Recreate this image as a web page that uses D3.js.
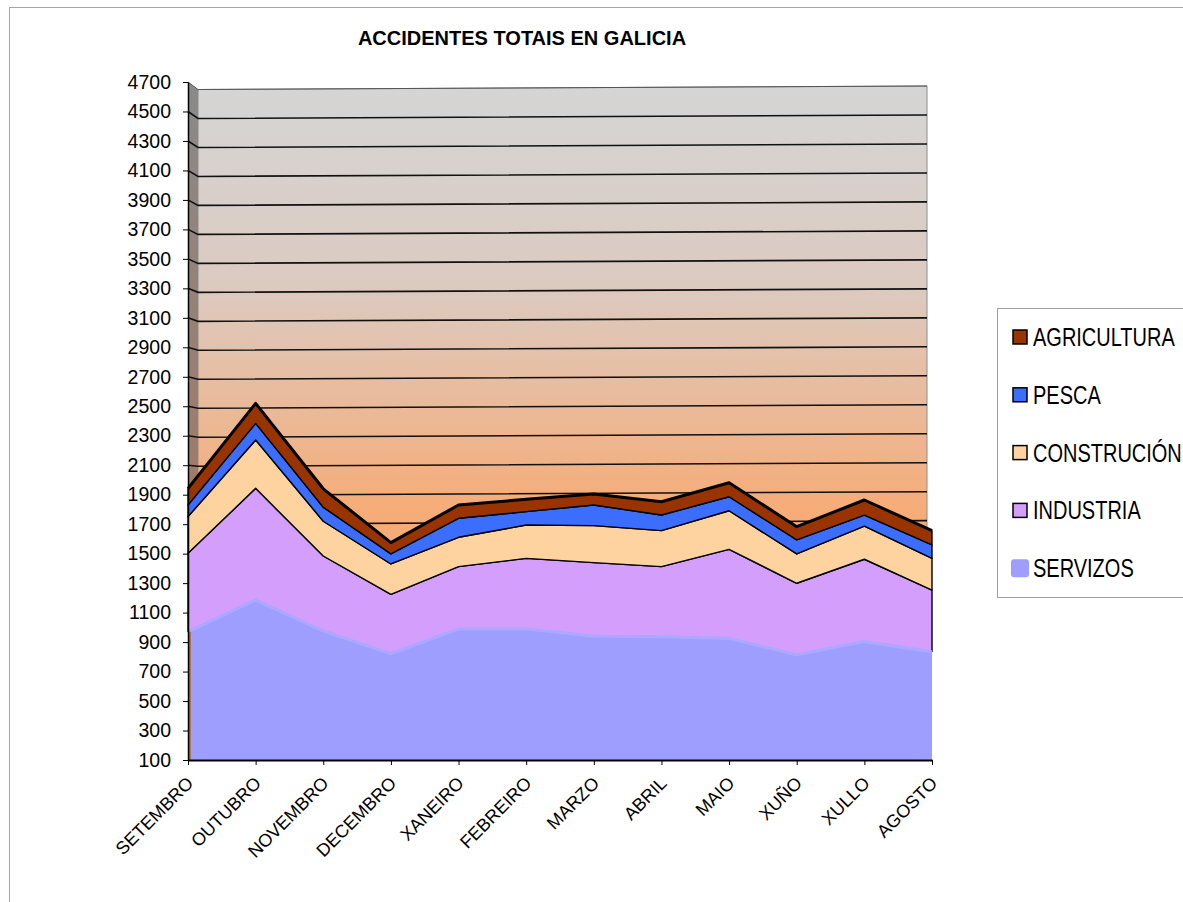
<!DOCTYPE html>
<html>
<head>
<meta charset="utf-8">
<script src="https://cdnjs.cloudflare.com/ajax/libs/d3/7.8.5/d3.min.js"></script>
<style>
  body{margin:0;background:#fff;}
  text{font-family:Arial,"Liberation Sans",sans-serif;fill:#000;}
</style>
</head>
<body>
<script>
// Datos
var meses = ["SETEMBRO","OUTUBRO","NOVEMBRO","DECEMBRO","XANEIRO","FEBREIRO","MARZO","ABRIL","MAIO","XUÑO","XULLO","AGOSTO"];
var servizos    = [970,1185,975,819,989,989,940,937,925,812,903,835];
var industria   = [532,758,509,405,423,479,499,475,604,487,559,418];
var construcion = [249,328,236,206,199,226,251,244,262,199,225,215];
var pesca       = [79,113,95,68,129,91,140,106,95,95,75,91];
var agricultura = [113,136,125,77,90,84,75,90,95,90,102,97];
var series  = ["SERVIZOS","INDUSTRIA","CONSTRUCIÓN","PESCA","AGRICULTURA"];
var colores = ["#9e9eff","#d39efc","#fed3a0","#3b6dff","#993300"];
var ticksY  = [100,300,500,700,900,1100,1300,1500,1700,1900,2100,2300,2500,2700,2900,3100,3300,3500,3700,3900,4100,4300,4500,4700];
var titulo  = "ACCIDENTES TOTAIS EN GALICIA";

// Tabla para el stack
var tabla = meses.map(function(m,i){
  return {mes:m, SERVIZOS:servizos[i], INDUSTRIA:industria[i], "CONSTRUCIÓN":construcion[i], PESCA:pesca[i], AGRICULTURA:agricultura[i]};
});

var W = 1183, H = 902;
var svg = d3.select("body").append("svg")
    .attr("width",W)
    .attr("height",H);

// Borde exterior del grafico
svg.append("rect")
    .attr("x",9.5).attr("y",7.5)
    .attr("width",1200).attr("height",1000)
    .attr("fill","none")
    .attr("stroke","#a6a6a6");

// Escalas
var xScale = d3.scalePoint().domain(meses).range([188, 932]);
var yScale = d3.scaleLinear().domain([100,4700]).range([760,82]).clamp(true);

// Pared del fondo (efecto 3D)
var paredX0 = 198, paredX1 = 927;
var paredY = d3.scaleLinear().domain([100,4700]).range([756,89.5]);
function wy(v, xx){ return paredY(v) - 3.5*(xx-paredX0)/(paredX1-paredX0); }

var defs = svg.append("defs");
var grad = defs.append("linearGradient").attr("id","fondo")
    .attr("gradientUnits","userSpaceOnUse")
    .attr("x1",0).attr("y1",89).attr("x2",0).attr("y2",756);
grad.append("stop").attr("offset","0%").attr("stop-color","#d5d5d5");
grad.append("stop").attr("offset","30%").attr("stop-color","#dccac0");
grad.append("stop").attr("offset","62%").attr("stop-color","#f5ad7a");
grad.append("stop").attr("offset","100%").attr("stop-color","#f7a062");

var grad2 = defs.append("linearGradient").attr("id","lado")
    .attr("gradientUnits","userSpaceOnUse")
    .attr("x1",0).attr("y1",82).attr("x2",0).attr("y2",760);
grad2.append("stop").attr("offset","0%").attr("stop-color","#8a8a8a");
grad2.append("stop").attr("offset","60%").attr("stop-color","#a07a68");
grad2.append("stop").attr("offset","100%").attr("stop-color","#b0703f");

var vMin = ticksY[0], vMax = ticksY[ticksY.length-1];

svg.append("polygon")
    .attr("points",[[paredX0,wy(vMax,paredX0)],[paredX1,wy(vMax,paredX1)],[paredX1,wy(vMin,paredX1)],[paredX0,wy(vMin,paredX0)]].join(" "))
    .attr("fill","url(#fondo)")
    .attr("stroke","#8c8c8c");

svg.append("polygon")
    .attr("points",[[188,yScale(vMax)],[paredX0,wy(vMax,paredX0)],[paredX0,wy(vMin,paredX0)],[188,yScale(vMin)]].join(" "))
    .attr("fill","url(#lado)");

// Lineas de division
svg.append("g").selectAll("path")
    .data(ticksY.slice(1))
    .enter().append("path")
    .attr("d",function(v){ return "M188,"+yScale(v)+"L"+paredX0+","+wy(v,paredX0)+"L"+paredX1+","+wy(v,paredX1); })
    .attr("fill","none")
    .attr("stroke",function(v){ return v==vMax ? "#555" : "#111"; })
    .attr("stroke-width",function(v){ return v==vMax ? 1 : 1.6; });

// Areas apiladas
var stack = d3.stack().keys(series);
var capas = stack(tabla);

var area = d3.area()
    .x(function(d){ return xScale(d.data.mes); })
    .y0(function(d){ return yScale(d[0]); })
    .y1(function(d){ return yScale(d[1]); });

var linea = d3.line()
    .x(function(d){ return xScale(d.data.mes); })
    .y(function(d){ return yScale(d[1]); });

svg.append("g").selectAll("path")
    .data(capas)
    .enter().append("path")
    .attr("d",area)
    .attr("fill",function(d,i){ return colores[i]; })
    .attr("stroke",function(d,i){ return i==0 ? "none" : "#000"; })
    .attr("stroke-width",1.4)
    .attr("stroke-linejoin","round");

// borde suave de servizos
svg.append("path")
    .attr("d",linea(capas[0]))
    .attr("fill","none")
    .attr("stroke","#a9a9ff")
    .attr("stroke-width",3);

// borde superior grueso de agricultura
svg.append("path")
    .attr("d",linea(capas[capas.length-1]))
    .attr("fill","none")
    .attr("stroke","#000")
    .attr("stroke-width",3)
    .attr("stroke-linejoin","round");

// lateral izquierdo de las areas
svg.append("line")
    .attr("x1",189.5).attr("x2",189.5)
    .attr("y1",yScale(vMin)).attr("y2",yScale(servizos[0]))
    .attr("stroke","#b8602a")
    .attr("stroke-width",2.5);

// Ejes
var yAxis = d3.axisLeft(yScale).tickValues(ticksY).tickSize(5).tickSizeOuter(0).tickPadding(12).tickFormat(d3.format("d"));
var gy = svg.append("g")
    .attr("transform","translate(188,0)")
    .call(yAxis);
gy.select(".domain").attr("stroke","#000").attr("stroke-width",1.5);
gy.selectAll("line").attr("stroke","#000");
gy.selectAll("text").attr("font-size","19.5px").attr("font-family","Arial,'Liberation Sans',sans-serif");

var xAxis = d3.axisBottom(xScale).tickSize(5).tickSizeOuter(0).tickFormat("");
var gx = svg.append("g")
    .attr("transform","translate(0,760)")
    .call(xAxis);
gx.select(".domain").attr("stroke","#000").attr("stroke-width",2);
gx.selectAll("line").attr("stroke","#000");

svg.append("g").selectAll("text")
    .data(meses)
    .enter().append("text")
    .attr("transform",function(m){ return "translate("+(xScale(m)+2)+",780) rotate(-45)"; })
    .attr("text-anchor","end")
    .attr("dy","0.35em")
    .attr("font-size","18px")
    .text(function(m){ return m; });

// Titulo
svg.append("text")
    .attr("x",522)
    .attr("y",45)
    .attr("text-anchor","middle")
    .attr("font-size","20px")
    .attr("font-weight","bold")
    .text(titulo);

// Leyenda
svg.append("rect")
    .attr("x",997.5).attr("y",308.5)
    .attr("width",200).attr("height",289)
    .attr("fill","#fff")
    .attr("stroke","#a0a0a0");

var orden = series.slice().reverse();
var leyenda = svg.append("g").selectAll("g")
    .data(orden)
    .enter().append("g")
    .attr("transform",function(d,i){ return "translate(0,"+(337+i*57.8)+")"; });

leyenda.append("rect")
    .attr("x",function(d){ return d=="SERVIZOS" ? 1011 : 1013; })
    .attr("y",function(d){ return d=="SERVIZOS" ? -9 : -7; })
    .attr("width",function(d){ return d=="SERVIZOS" ? 18 : 14; })
    .attr("height",function(d){ return d=="SERVIZOS" ? 18 : 14; })
    .attr("rx",function(d){ return d=="SERVIZOS" ? 3 : 0; })
    .attr("fill",function(d){ return colores[series.indexOf(d)]; })
    .attr("stroke",function(d){ return d=="SERVIZOS" ? "none" : "#000"; })
    .attr("stroke-width",1.5);

leyenda.append("text")
    .attr("transform","translate(1033,9) scale(0.8,1)")
    .attr("font-size","25px")
    .text(function(d){ return d; });
</script>
</body>
</html>
